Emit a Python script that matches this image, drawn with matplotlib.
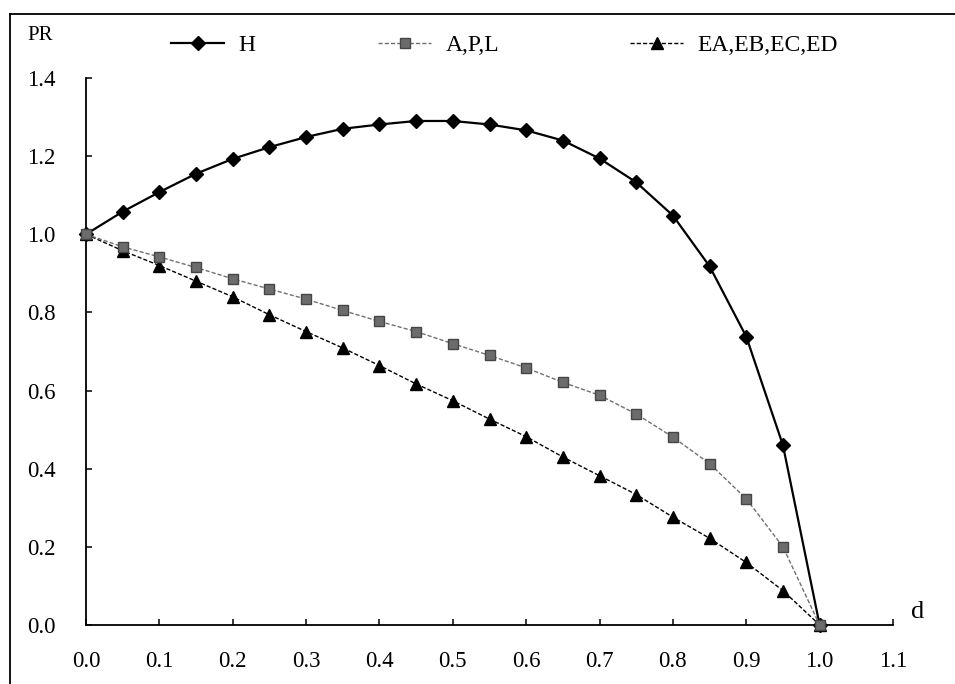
import matplotlib
matplotlib.use('Agg')
import matplotlib.pyplot as plt
from matplotlib.lines import Line2D

# ---- data ----
d_values = [0.0, 0.05, 0.1, 0.15, 0.2, 0.25, 0.3, 0.35, 0.4, 0.45, 0.5,
            0.55, 0.6, 0.65, 0.7, 0.75, 0.8, 0.85, 0.9, 0.95, 1.0]
pr_H = [1.0, 1.058, 1.108, 1.155, 1.193, 1.223, 1.249, 1.270, 1.281, 1.290, 1.290,
        1.281, 1.266, 1.240, 1.194, 1.133, 1.048, 0.918, 0.738, 0.460, 0.0]
pr_APL = [1.0, 0.968, 0.942, 0.915, 0.886, 0.860, 0.834, 0.805, 0.777, 0.751, 0.720,
          0.690, 0.658, 0.621, 0.588, 0.540, 0.481, 0.413, 0.323, 0.200, 0.0]
pr_EA = [1.0, 0.958, 0.920, 0.880, 0.840, 0.794, 0.751, 0.709, 0.664, 0.617, 0.574,
         0.527, 0.482, 0.430, 0.382, 0.334, 0.276, 0.222, 0.160, 0.088, 0.0]
series_labels = ['H', 'A,P,L', 'EA,EB,EC,ED']
x_ticks = [0.0, 0.1, 0.2, 0.3, 0.4, 0.5, 0.6, 0.7, 0.8, 0.9, 1.0, 1.1]
y_ticks = [0.0, 0.2, 0.4, 0.6, 0.8, 1.0, 1.2, 1.4]

plt.rcParams['font.family'] = ['Liberation Serif', 'DejaVu Serif']

W, Hpx = 955, 684
fig = plt.figure(figsize=(W / 100, Hpx / 100), dpi=100)
ax = fig.add_axes([86 / W, (Hpx - 625) / Hpx, (893 - 86) / W, (625 - 78) / Hpx])

l_ea, = ax.plot(d_values, pr_EA, color='black', lw=1.0, ls=(0, (3, 1.5)),
                marker='^', ms=8, mfc='black', mec='black', clip_on=False, zorder=3)
l_h, = ax.plot(d_values, pr_H, color='black', lw=1.6, ls='-',
               marker='D', ms=7, mfc='black', mec='black', clip_on=False, zorder=4)
l_apl, = ax.plot(d_values, pr_APL, color='#707070', lw=1.0, ls=(0, (3, 1.5)),
                 marker='s', ms=7.5, mfc='#6c6c6c', mec='#454545', mew=1.0,
                 clip_on=False, zorder=5)

ax.set_xlim(0, 1.1)
ax.set_ylim(0, 1.4)
ax.set_xticks(x_ticks)
ax.set_xticklabels([f'{v:.1f}' for v in x_ticks])
ax.set_yticks(y_ticks)
ax.set_yticklabels([f'{v:.1f}' for v in y_ticks])
for s in ['top', 'right']:
    ax.spines[s].set_visible(False)
for s in ['left', 'bottom']:
    ax.spines[s].set_linewidth(1.3)
ax.tick_params(axis='both', direction='in', length=4, width=1.1, labelsize=16.5)
ax.tick_params(axis='y', pad=22)
ax.tick_params(axis='x', pad=19)
ax.patch.set_alpha(0)

# figure frame (left and top)
fig.add_artist(Line2D([10 / W, 10 / W], [0, 1 - 14 / Hpx], transform=fig.transFigure,
                      color='black', lw=1.3))
fig.add_artist(Line2D([10 / W, 1], [1 - 14 / Hpx, 1 - 14 / Hpx], transform=fig.transFigure,
                      color='black', lw=1.3))

fig.text(40 / W, 1 - 35 / Hpx, 'PR', ha='center', va='center', fontsize=15)
fig.text(918 / W, 1 - 612 / Hpx, 'd', ha='center', va='center', fontsize=19)

# legend entries
for handle, label, x0 in [(l_h, series_labels[0], 171),
                          (l_apl, series_labels[1], 378),
                          (l_ea, series_labels[2], 630)]:
    fig.legend(handles=[handle], labels=[label], loc='center left',
               bbox_to_anchor=(x0 / W, 1 - 45 / Hpx), frameon=False, fontsize=17,
               handlelength=2.25, handletextpad=0.6, borderpad=0, borderaxespad=0,
               numpoints=1)

fig.savefig('out.png', dpi=100)
